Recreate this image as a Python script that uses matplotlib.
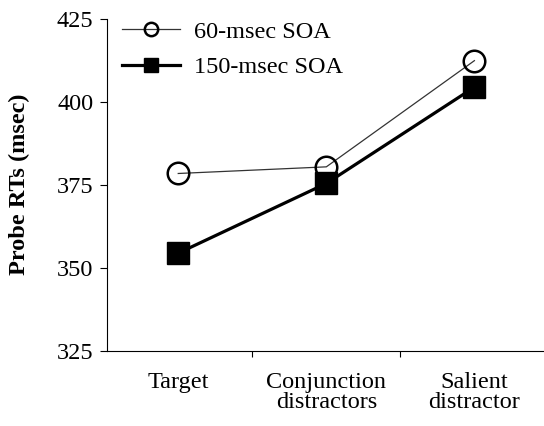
import matplotlib

matplotlib.use("Agg")
import matplotlib.pyplot as plt
from matplotlib.ticker import FixedLocator, NullFormatter

plt.rcParams["font.family"] = ["Liberation Serif", "DejaVu Serif"]

categories = ["Target", "Conjunction\ndistractors", "Salient\ndistractor"]
soa60 = [378.5, 380.5, 412.5]
soa150 = [354.5, 375.5, 404.5]
yticks = [325, 350, 375, 400, 425]

FS = 17.5

fig = plt.figure(figsize=(5.44, 4.26), dpi=100)
ax = fig.add_axes([0.197, 0.176, 0.803, 0.779])

x = list(range(len(categories)))
ax.plot(x, soa60, color="#333333", lw=0.9, marker="o", ms=15.5, mfc="none",
        mec="black", mew=1.8, label="60-msec SOA")
ax.plot(x, soa150, color="black", lw=2.3, marker="s", ms=16, mfc="black",
        mec="black", label="150-msec SOA")

ax.set_xlim(-0.48, 2.47)
ax.set_ylim(325, 425)
ax.set_yticks(yticks)
ax.set_xticks(x)
ax.set_xticklabels(categories, fontsize=FS, linespacing=0.95)
ax.xaxis.set_minor_locator(FixedLocator([0.5, 1.5]))
ax.xaxis.set_minor_formatter(NullFormatter())
ax.tick_params(axis="x", which="major", length=0, pad=15)
ax.tick_params(axis="x", which="minor", length=4, direction="out", width=0.8)
ax.tick_params(axis="y", length=5, width=0.8, direction="out", labelsize=FS, pad=5)

for side in ("top", "right"):
    ax.spines[side].set_visible(False)
for side in ("left", "bottom"):
    ax.spines[side].set_linewidth(0.8)

ax.set_ylabel("Probe RTs (msec)", fontsize=FS, fontweight="bold")
ax.yaxis.set_label_coords(-0.176, 0.503)

ax.legend(loc="upper left", bbox_to_anchor=(0.034, 0.995), frameon=False, fontsize=FS,
          handlelength=2.4, handletextpad=0.55, labelspacing=0.55, borderpad=0,
          borderaxespad=0, markerscale=0.62)

fig.savefig("out.png", dpi=100)
